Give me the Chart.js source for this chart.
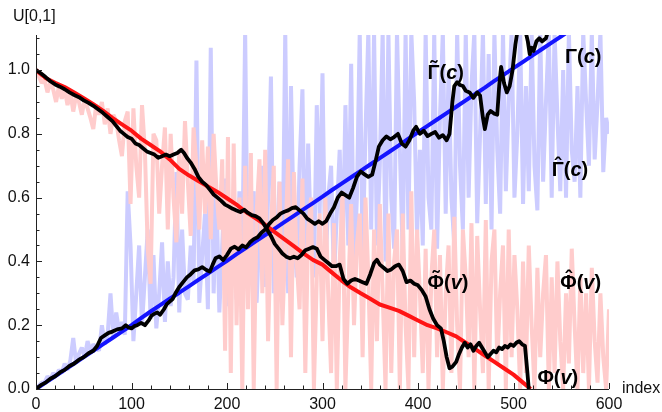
<!DOCTYPE html>
<html>
<head>
<meta charset="utf-8">
<script src="https://cdn.jsdelivr.net/npm/chart.js@4.4.1/dist/chart.umd.min.js"></script>
<style>
  html, body { margin: 0; padding: 0; background: #fff; }
  #wrap { width: 662px; height: 412px; }
</style>
</head>
<body>
<div id="wrap"><canvas id="chart" width="662" height="412"></canvas></div>
<script>
// axis ticks
const xTickValues = [0, 100, 200, 300, 400, 500, 600];
const yTickValues = [0, 0.2, 0.4, 0.6, 0.8, 1.0];
const yTickLabels = ['0.0', '0.2', '0.4', '0.6', '0.8', '1.0'];

// Γ(c): reference line
const gammaIdx = [0,10,20,30,40,50,60,70,80,90,100,110,120,130,140,150,160,170,180,190,200,210,220,230,240,250,260,270,280,290,300,310,320,330,340,350,360,370,380,390,400,410,420,430,440,450,460,470,480,490,500,510,520,530,540,550,560];
const gammaVal = [0,0.02,0.04,0.06,0.08,0.1,0.12,0.14,0.16,0.18,0.2,0.222,0.243,0.263,0.283,0.302,0.322,0.342,0.362,0.382,0.402,0.423,0.443,0.463,0.483,0.503,0.523,0.543,0.563,0.583,0.603,0.624,0.644,0.664,0.684,0.704,0.724,0.744,0.764,0.785,0.805,0.825,0.845,0.865,0.885,0.905,0.925,0.945,0.966,0.986,1.006,1.026,1.046,1.066,1.086,1.106,1.126];

// Φ(v): reference line
const phiIdx = [0,10,20,30,40,50,60,70,80,90,100,110,120,130,140,150,160,170,180,190,200,210,220,230,240,250,260,270,280,290,300,310,320,330,340,350,360,370,380,390,400,410,420,430,440,450,460,470,480,490,500,510,518];
const phiVal = [1.0,0.975,0.96,0.947,0.93,0.912,0.893,0.873,0.85,0.83,0.81,0.785,0.765,0.745,0.72,0.69,0.67,0.652,0.635,0.618,0.598,0.578,0.555,0.535,0.515,0.492,0.47,0.448,0.425,0.405,0.39,0.365,0.34,0.318,0.3,0.283,0.265,0.255,0.245,0.23,0.215,0.2,0.19,0.178,0.165,0.145,0.125,0.105,0.085,0.065,0.045,0.02,0.0];

// Γ̃(c)
const gammaTildeIdx = [0,5,10,15,20,25,30,35,40,45,50,55,60,64,68,72,76,80,85,90,94,97,100,103,106,110,114,118,121,124,127,130,134,137,140,143,146,150,154,158,162,166,170,174,178,182,185,188,192,196,200,204,208,212,216,220,224,228,232,236,240,244,248,252,256,260,264,268,272,276,280,284,288,292,296,300,304,308,312,316,320,324,328,332,336,340,344,348,352,356,359,363,367,371,375,379,383,387,391,395,398,402,406,410,414,418,422,426,430,433,436,438,441,444,447,450,454,458,462,465,468,470,473,476,480,483,485,487,490,493,496,499,502,504,508,512,515,517,519,521,524,527,530,534,538,545];
const gammaTildeVal = [0,0.012,0.02,0.032,0.04,0.052,0.06,0.072,0.08,0.092,0.1,0.112,0.12,0.135,0.16,0.168,0.176,0.18,0.187,0.19,0.2,0.193,0.19,0.197,0.2,0.207,0.2,0.215,0.23,0.236,0.24,0.233,0.25,0.266,0.274,0.282,0.3,0.32,0.335,0.35,0.36,0.372,0.375,0.382,0.374,0.368,0.39,0.41,0.416,0.404,0.42,0.44,0.446,0.438,0.45,0.444,0.46,0.47,0.476,0.49,0.5,0.517,0.53,0.538,0.55,0.556,0.56,0.567,0.57,0.56,0.55,0.534,0.526,0.518,0.526,0.518,0.527,0.55,0.57,0.6,0.616,0.608,0.6,0.63,0.665,0.682,0.673,0.665,0.672,0.72,0.76,0.78,0.792,0.783,0.79,0.8,0.77,0.76,0.78,0.81,0.822,0.8,0.81,0.793,0.8,0.806,0.788,0.796,0.78,0.8,0.9,0.95,0.962,0.953,0.95,0.935,0.93,0.913,0.93,0.92,0.85,0.815,0.86,0.872,0.863,0.86,0.95,1.01,0.96,0.93,0.95,1.0,1.08,1.12,1.14,1.13,1.09,1.05,1.07,1.06,1.09,1.1,1.09,1.1,1.14,1.2];

// Φ̃(v)
const phiTildeIdx = [0,5,10,15,20,25,30,35,40,45,50,55,60,65,70,75,80,84,88,92,96,100,104,108,112,116,120,124,128,132,136,140,144,148,152,155,158,162,166,170,174,178,182,186,190,194,198,202,206,210,214,218,222,226,230,234,238,242,246,250,254,258,262,266,270,274,278,282,286,290,294,298,302,306,310,314,318,322,326,330,334,338,342,346,350,354,357,360,364,368,372,376,380,384,388,392,396,400,404,408,412,416,420,424,427,430,433,436,440,443,446,449,452,455,458,461,464,467,470,473,476,479,482,485,488,491,494,497,500,503,506,509,512,514,516];
const phiTildeVal = [1.0,0.99,0.978,0.965,0.955,0.948,0.94,0.93,0.922,0.915,0.905,0.897,0.888,0.877,0.866,0.853,0.84,0.825,0.81,0.8,0.79,0.785,0.77,0.765,0.755,0.745,0.74,0.735,0.725,0.73,0.735,0.73,0.735,0.74,0.75,0.74,0.725,0.71,0.69,0.665,0.65,0.64,0.625,0.61,0.6,0.59,0.578,0.572,0.565,0.56,0.555,0.562,0.552,0.545,0.542,0.535,0.52,0.5,0.48,0.455,0.44,0.425,0.415,0.41,0.415,0.41,0.42,0.435,0.44,0.445,0.44,0.415,0.405,0.395,0.385,0.385,0.39,0.345,0.33,0.34,0.345,0.34,0.335,0.33,0.36,0.395,0.405,0.39,0.38,0.37,0.375,0.385,0.39,0.37,0.335,0.34,0.33,0.325,0.31,0.29,0.25,0.22,0.2,0.19,0.15,0.1,0.065,0.07,0.085,0.11,0.13,0.145,0.13,0.14,0.12,0.135,0.145,0.13,0.115,0.1,0.11,0.12,0.115,0.13,0.125,0.135,0.13,0.14,0.135,0.145,0.15,0.14,0.135,0.07,0.0];

// Γ̂(c) and Φ̂(v): raw samples, one every 3 index steps from 0 to 600
const hatStep = 3;
const gammaHatVal = [
  0, 0.01, 0.02, 0.02, 0.04, 0.03, 0.05, 0.04, 0.06, 0.05,
  0.08, 0.06, 0.09, 0.16, 0.08, 0.11, 0.13, 0.1, 0.15, 0.12,
  0.14, 0.13, 0.12, 0.2, 0.14, 0.17, 0.3, 0.16, 0.24, 0.18,
  0.21, 0.17, 0.62, 0.45, 0.15, 0.3, 0.45, 0.2, 0.35, 0.5,
  0.22, 0.42, 0.19, 0.3, 0.46, 0.21, 0.4, 0.26, 0.35, 0.68,
  0.24, 0.5, 0.3, 0.28, 0.45, 0.33, 1.03, 0.27, 0.42, 0.55,
  0.25, 1.07, 0.3, 0.6, 0.24, 0.45, 0.66, 0.26, 0.5, 0.6,
  0.28, 0.62, 0.4, 1.12, 0.3, 0.55, 0.62, 0.27, 0.5, 0.7,
  0.32, 0.6, 0.98, 0.3, 0.45, 0.65, 0.35, 1.12, 0.3, 0.95,
  0.5, 0.35, 0.7, 0.94, 0.33, 0.77, 0.45, 0.35, 0.89, 0.55,
  0.99, 0.36, 0.6, 0.7, 0.34, 0.55, 0.75, 0.4, 0.89, 0.45,
  1.02, 0.37, 0.6, 1.12, 0.42, 0.8, 1.12, 0.5, 1.12, 0.45,
  0.7, 1.12, 0.4, 1.12, 0.6, 0.44, 1.12, 0.75, 0.42, 1.12,
  0.5, 1.12, 0.9, 0.48, 0.75, 0.45, 1.12, 0.6, 0.5, 1.12,
  0.44, 0.85, 1.12, 0.55, 1.0, 0.6, 0.45, 1.12, 0.7, 0.5,
  1.12, 0.6, 0.95, 1.12, 0.52, 0.8, 1.12, 0.58, 1.05, 0.5,
  1.12, 0.75, 0.55, 1.12, 0.62, 0.9, 1.12, 0.6, 0.8, 1.12,
  0.58, 0.95, 0.62, 1.12, 0.7, 0.56, 1.12, 0.65, 0.9, 1.12,
  0.6, 1.12, 0.85, 0.62, 1.0, 0.6, 1.12, 0.75, 0.65, 0.95,
  0.6, 1.12, 0.9, 0.7, 1.12, 0.72, 0.9, 1.12, 0.68, 0.85,
  0.8
];
const phiHatVal = [
  1.0, 0.98, 0.96, 0.97, 0.93, 0.96, 0.94, 0.9, 0.95, 0.91,
  0.94, 0.89, 0.93, 0.87, 0.92, 0.9, 0.86, 0.91, 0.88, 0.85,
  0.815, 0.89, 0.86, 0.9, 0.83, 0.88, 0.8, 0.86, 0.84, 0.78,
  0.73, 0.84, 0.87, 0.58, 0.88, 0.7, 0.6, 0.89, 0.75, 0.44,
  0.33, 0.8, 0.78, 0.55, 0.7, 0.82, 0.5, 0.8, 0.6, 0.46,
  0.75, 0.55, 0.84, 0.65, 0.48, 0.82, 0.7, 0.5, 0.78, 0.55,
  0.76, 0.47, 0.8, 0.62, 0.5, 0.72, 0.12, 0.79, 0.05, 0.77,
  0.2, 0.6, 0.0, 0.7, 0.25, 0.74, 0.0, 0.55, 0.72, 0.3,
  0.75, 0.15, 0.5, 0.7, 0.0, 0.65, 0.2, 0.45, 0.72, 0.1,
  0.68, 0.4, 0.25, 0.66, 0.05, 0.5, 0.6, 0.0, 0.35, 0.55,
  0.15, 0.6, 0.3, 0.05, 0.52, 0.0, 0.4, 0.62, 0.0, 0.3,
  0.58, 0.2, 0.45, 0.55, 0.1, 0.6, 0.35, 0.0, 0.5, 0.15,
  0.58, 0.3, 0.0, 0.55, 0.05, 0.4, 0.5, 0.0, 0.55, 0.2,
  0.0, 0.62, 0.1, 0.5, 0.3, 0.05, 0.44, 0.0, 0.35, 0.5,
  0.1, 0.42, 0.0, 0.3, 0.45, 0.05, 0.54, 0.2, 0.0, 0.5,
  0.35, 0.1, 0.52, 0.0, 0.48, 0.25, 0.05, 0.53, 0.0, 0.4,
  0.5, 0.08, 0.3, 0.45, 0.0, 0.5, 0.1, 0.42, 0.25, 0.0,
  0.4, 0.05, 0.45, 0.2, 0.0, 0.38, 0.1, 0.3, 0.42, 0.0,
  0.35, 0.05, 0.4, 0.15, 0.0, 0.3, 0.08, 0.44, 0.2, 0.0,
  0.35, 0.05, 0.3, 0.0, 0.38, 0.15, 0.02, 0.3, 0.1, 0.0,
  0.25
];

// curve labels, placed in data coordinates
const curveLabels = [
  { base: 'Γ', accent: '˜', arg: 'c', x: 410, y: 0.972 },
  { base: 'Γ', accent: '',  arg: 'c', x: 554, y: 1.022 },
  { base: 'Γ', accent: 'ˆ', arg: 'c', x: 540, y: 0.668 },
  { base: 'Φ', accent: '˜', arg: 'v', x: 410, y: 0.314 },
  { base: 'Φ', accent: 'ˆ', arg: 'v', x: 549, y: 0.314 },
  { base: 'Φ', accent: '',  arg: 'v', x: 525, y: 0.016 }
];

const FONT = "'Liberation Sans', Arial, sans-serif";

function toPoints(xs, ys) {
  return xs.map((x, i) => ({ x: x, y: ys[i] }));
}

function hatPoints(ys) {
  return ys.map((y, i) => ({ x: i * hatStep, y: y }));
}

function lineSet(label, data, color, width, order, join) {
  return {
    label: label,
    data: data,
    borderColor: color,
    borderWidth: width,
    pointRadius: 0,
    tension: 0,
    borderJoinStyle: join || 'round',
    borderCapStyle: 'butt',
    fill: false,
    clip: 0,
    order: order
  };
}

// axes, inward ticks and curve labels
const mathAxes = {
  id: 'mathAxes',
  afterDatasetsDraw(chart) {
    const { ctx, chartArea: a, scales } = chart;
    const xs = scales.x, ys = scales.y;
    ctx.save();
    ctx.strokeStyle = '#222';
    ctx.lineWidth = 1;
    ctx.beginPath();
    ctx.moveTo(a.left + 0.5, a.bottom);
    ctx.lineTo(a.left + 0.5, a.top);
    ctx.moveTo(a.left, a.bottom + 0.5);
    ctx.lineTo(a.right, a.bottom + 0.5);
    // x ticks: major every 100, minor every 20
    for (let v = 0; v <= 600; v += 20) {
      const px = Math.round(xs.getPixelForValue(v)) + 0.5;
      const len = v % 100 === 0 ? 6 : 3.5;
      ctx.moveTo(px, a.bottom);
      ctx.lineTo(px, a.bottom - len);
    }
    // y ticks: major every 0.2, minor every 0.05
    for (let k = 0; k <= 22; k++) {
      const py = Math.round(ys.getPixelForValue(k * 0.05)) + 0.5;
      const len = k % 4 === 0 ? 6 : 3.5;
      ctx.moveTo(a.left, py);
      ctx.lineTo(a.left + len, py);
    }
    ctx.stroke();

    // axis titles
    ctx.fillStyle = '#111';
    ctx.font = '16px ' + FONT;
    ctx.textBaseline = 'alphabetic';
    ctx.textAlign = 'left';
    ctx.fillText('U[0,1]', 13, 21);
    ctx.fillText('index', 622, 393);

    // curve labels
    ctx.fillStyle = '#000';
    curveLabels.forEach(lb => {
      let px = xs.getPixelForValue(lb.x);
      const py = ys.getPixelForValue(lb.y);
      ctx.font = 'bold 20px ' + FONT;
      const bw = ctx.measureText(lb.base).width;
      ctx.fillText(lb.base, px, py);
      if (lb.accent) {
        ctx.textAlign = 'center';
        ctx.fillText(lb.accent, px + bw / 2, py - 4);
        ctx.textAlign = 'left';
      }
      px += bw;
      ctx.fillText('(', px, py);
      px += ctx.measureText('(').width;
      ctx.font = 'italic bold 20px ' + FONT;
      ctx.fillText(lb.arg, px, py);
      px += ctx.measureText(lb.arg).width;
      ctx.font = 'bold 20px ' + FONT;
      ctx.fillText(')', px, py);
    });
    ctx.restore();
  }
};

const chart = new Chart(document.getElementById('chart'), {
  type: 'line',
  data: {
    datasets: [
      lineSet('Γ̂(c)', hatPoints(gammaHatVal), 'rgb(204,204,255)', 4, 6, 'bevel'),
      lineSet('Φ̂(v)', hatPoints(phiHatVal), 'rgb(255,204,204)', 4, 5, 'bevel'),
      lineSet('Γ(c)', toPoints(gammaIdx, gammaVal), 'rgb(20,20,255)', 4, 4),
      lineSet('Φ(v)', toPoints(phiIdx, phiVal), 'rgb(255,20,20)', 4, 3),
      lineSet('Γ̃(c)', toPoints(gammaTildeIdx, gammaTildeVal), '#000', 3.8, 2),
      lineSet('Φ̃(v)', toPoints(phiTildeIdx, phiTildeVal), '#000', 3.8, 1)
    ]
  },
  options: {
    responsive: false,
    animation: false,
    devicePixelRatio: 1,
    layout: { padding: { top: 35, right: 53, bottom: 0, left: 0 } },
    plugins: {
      legend: { display: false },
      tooltip: { enabled: false }
    },
    scales: {
      x: {
        type: 'linear',
        min: 0,
        max: 600,
        grid: { display: false, drawTicks: false },
        border: { display: false },
        afterBuildTicks: s => { s.ticks = xTickValues.map(v => ({ value: v })); },
        afterFit: s => { s.height = 23; },
        ticks: {
          padding: 6,
          maxRotation: 0,
          autoSkip: false,
          color: '#111',
          font: { family: FONT, size: 16 }
        }
      },
      y: {
        type: 'linear',
        min: 0,
        max: 1.11,
        grid: { display: false, drawTicks: false },
        border: { display: false },
        afterBuildTicks: s => { s.ticks = yTickValues.map(v => ({ value: v })); },
        afterFit: s => { s.width = 36; },
        ticks: {
          padding: 6,
          autoSkip: false,
          color: '#111',
          font: { family: FONT, size: 16 },
          callback: (v, i) => yTickLabels[i]
        }
      }
    }
  },
  plugins: [mathAxes]
});
</script>
</body>
</html>
